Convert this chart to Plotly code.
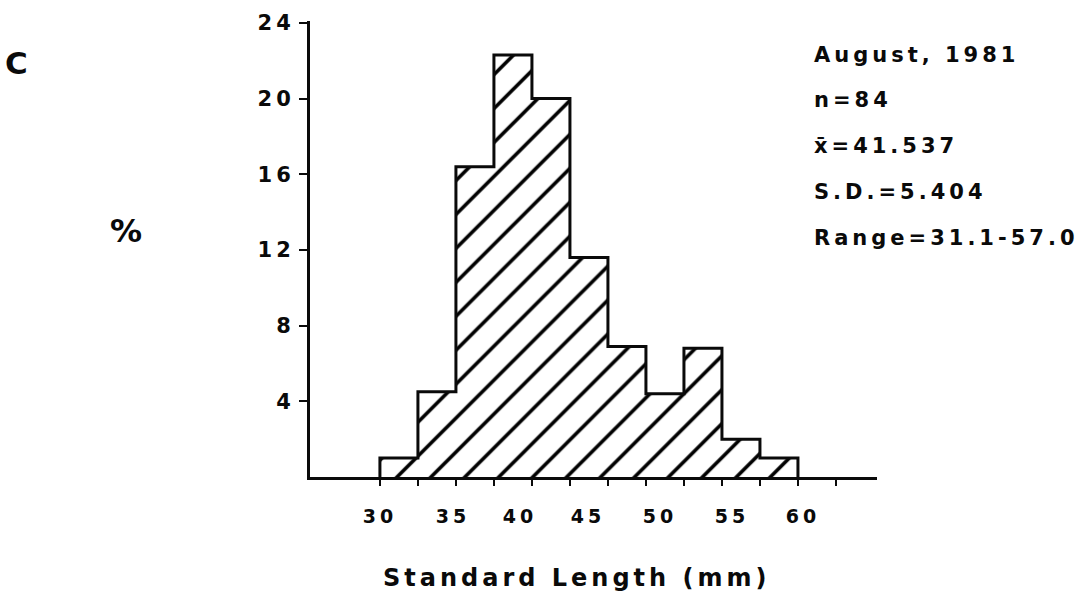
import plotly.graph_objects as go

# ---- data ----
bin_lo = [30.0, 32.5, 35.0, 37.5, 40.0, 42.5, 45.0, 47.5, 50.0, 52.5, 55.0]
bin_width = 2.5
percent = [1.0, 4.5, 16.4, 22.3, 20.0, 11.6, 6.9, 4.4, 6.8, 2.0, 1.0]

y_ticks = [4, 8, 12, 16, 20, 24]
x_tick_marks = [30, 32.5, 35, 37.5, 40, 42.5, 45, 47.5, 50, 52.5, 55, 57.5, 60]
x_tick_text = ["30", "35", "40", "45", "50", "55", "60"]

stats_lines = ["August, 1981", "n=84", "x\u0304=41.537", "S.D.=5.404", "Range=31.1-57.0"]
panel_letter = "C"
y_title = "%"
x_title = "Standard Length (mm)"

# ---- layout geometry (pixels) ----
W, H = 1088, 601
PL, PR, PT, PB = 310, 877, 21, 477
XR = [25.4, 62.7]
YR = [0, 24.1]

def px_x(px):
    return XR[0] + (px - PL) * (XR[1] - XR[0]) / (PR - PL)

def paper_x(px):
    return (px - PL) / (PR - PL)

def paper_y(py):
    return (PB - py) / (PB - PT)

# printed labels drift left of the tick marks in the original
label_px = [380, 453, 520, 588, 660, 732, 803]
label_pos = [px_x(p) for p in label_px]

FONT = "DejaVu Sans"
INK = "#0a0a0a"

centers = [lo + bin_width / 2 for lo in bin_lo]
outline_x = [bin_lo[0]] + bin_lo + [bin_lo[-1] + bin_width]
outline_y = [0] + percent + [0]

fig = go.Figure()
fig.add_trace(go.Bar(
    x=centers, y=percent, width=bin_width,
    marker=dict(color="white", line=dict(width=0),
                pattern=dict(shape="/", size=24, solidity=0.15,
                             fgcolor="black", bgcolor="white",
                             fgopacity=1, fillmode="overlay")),
    showlegend=False, hoverinfo="skip",
))
fig.add_trace(go.Scatter(
    x=outline_x, y=outline_y, mode="lines",
    line=dict(shape="hv", color=INK, width=3),
    showlegend=False, hoverinfo="skip",
))
# invisible trace to activate xaxis2 (tick labels)
fig.add_trace(go.Scatter(x=[XR[0]], y=[0], xaxis="x2", mode="markers",
                         marker=dict(opacity=0), showlegend=False, hoverinfo="skip"))

fig.update_layout(
    width=W, height=H,
    margin=dict(l=PL, r=W - PR, t=PT, b=H - PB),
    paper_bgcolor="white", plot_bgcolor="white",
    bargap=0,
    font=dict(family=FONT, color=INK, size=20, weight="bold"),
    xaxis=dict(range=XR, showgrid=False, zeroline=False,
               showline=True, linecolor=INK, linewidth=3,
               tickmode="array", tickvals=x_tick_marks, showticklabels=False,
               ticks="outside", ticklen=6, tickwidth=2, tickcolor=INK),
    xaxis2=dict(range=XR, overlaying="x", anchor="y", side="bottom",
                showgrid=False, zeroline=False, showline=False,
                tickmode="array", tickvals=label_pos, ticktext=x_tick_text,
                ticks="outside", ticklen=22, tickcolor="rgba(0,0,0,0)",
                tickfont=dict(family=FONT, size=19, color=INK, weight="bold")),
    yaxis=dict(range=YR, showgrid=False, zeroline=False,
               showline=True, linecolor=INK, linewidth=3,
               tickmode="array", tickvals=y_ticks,
               ticks="outside", ticklen=8, tickwidth=2, tickcolor=INK,
               tickfont=dict(family=FONT, size=21, color=INK, weight="bold")),
)

stat_py = [55, 100, 146, 192, 238]
for txt, py in zip(stats_lines, stat_py):
    fig.add_annotation(x=paper_x(812), y=paper_y(py), xref="paper", yref="paper", text=txt,
                       showarrow=False, xanchor="left", yanchor="middle", align="left",
                       font=dict(family=FONT, size=21, color=INK, weight="bold"))

fig.add_annotation(x=paper_x(18), y=paper_y(63), xref="paper", yref="paper", text=panel_letter,
                   showarrow=False, xanchor="center", yanchor="middle",
                   font=dict(family=FONT, size=31, color=INK, weight="bold"))
fig.add_annotation(x=paper_x(128), y=paper_y(231), xref="paper", yref="paper", text=y_title,
                   showarrow=False, xanchor="center", yanchor="middle",
                   font=dict(family=FONT, size=32, color=INK, weight="bold"))
fig.add_annotation(x=paper_x(577), y=paper_y(578), xref="paper", yref="paper", text=x_title,
                   showarrow=False, xanchor="center", yanchor="middle",
                   font=dict(family=FONT, size=24, color=INK, weight="bold"))

css_js = """
document.body.style.margin = '0';
var s = document.createElement('style');
s.textContent = '.js-plotly-plot svg text { letter-spacing: 4px; }';
document.head.appendChild(s);
"""
fig.write_html("out.html", post_script=css_js, config={"displayModeBar": False})
